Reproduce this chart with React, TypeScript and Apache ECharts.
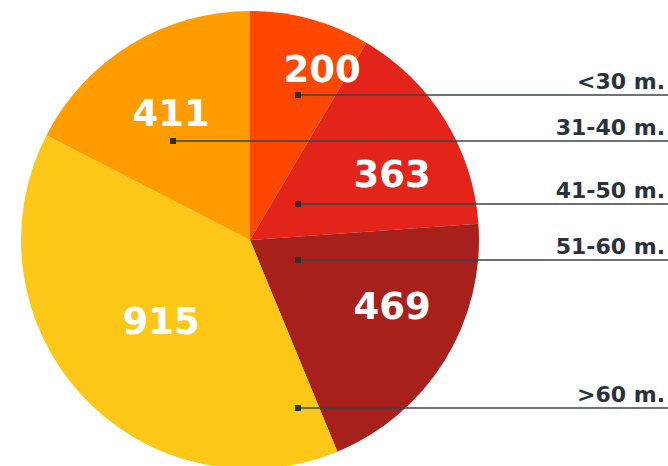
import React, { useEffect, useRef } from "react";
import * as echarts from "echarts";

// Pie slices, clockwise from the top
const CATEGORIES = ["<30 m.", "41-50 m.", "51-60 m.", ">60 m.", "31-40 m."];
const VALUES = [200, 363, 469, 915, 411];
const COLORS = ["#FF4700", "#E3241B", "#A8201B", "#FDC718", "#FE9C00"];

// Legend rows, top to bottom
const LEGEND_LABELS = ["<30 m.", "31-40 m.", "41-50 m.", "51-60 m.", ">60 m."];

// Layout (pixels)
const CENTER: [number, number] = [250, 240];
const RADIUS = 229;
const VALUE_LABEL_POS: Record<string, [number, number]> = {
  "<30 m.": [322, 69],
  "41-50 m.": [392, 174],
  "51-60 m.": [392, 306],
  ">60 m.": [161, 321],
  "31-40 m.": [171, 113],
};
const LEGEND_LINE_Y: Record<string, number> = {
  "<30 m.": 95,
  "31-40 m.": 141,
  "41-50 m.": 204,
  "51-60 m.": 260,
  ">60 m.": 408,
};
const LEGEND_MARK_X: Record<string, number> = {
  "<30 m.": 298,
  "31-40 m.": 173,
  "41-50 m.": 298,
  "51-60 m.": 298,
  ">60 m.": 298,
};

export default function App() {
  const ref = useRef<HTMLDivElement>(null);
  useEffect(() => {
    document.body.style.margin = "0";
    if (!ref.current) return;
    const chart = echarts.init(ref.current, undefined, { renderer: "svg" });
    const graphic: any[] = [];
    LEGEND_LABELS.forEach((name) => {
      const y = LEGEND_LINE_Y[name];
      const mx = LEGEND_MARK_X[name];
      graphic.push({
        type: "line",
        z: 100,
        shape: { x1: mx, y1: y, x2: 668, y2: y },
        style: { stroke: "#3a444e", lineWidth: 1.5 },
      });
      graphic.push({
        type: "rect",
        z: 101,
        shape: { x: mx - 3, y: y - 3, width: 6, height: 6 },
        style: { fill: "#28323c" },
      });
      graphic.push({
        type: "text",
        z: 101,
        x: 665,
        y: y - 14,
        style: {
          text: name,
          align: "right",
          verticalAlign: "middle",
          fill: "#28323c",
          font: 'bold 22px "DejaVu Sans"',
        },
      });
    });
    chart.setOption({
      animation: false,
      series: [
        {
          type: "pie",
          center: CENTER,
          radius: RADIUS,
          startAngle: 90,
          clockwise: true,
          silent: true,
          data: CATEGORIES.map((name, i) => ({
            name,
            value: VALUES[i],
            itemStyle: { color: COLORS[i] },
          })),
          label: {
            show: true,
            position: "inside",
            formatter: "{c}",
            color: "#ffffff",
            fontFamily: "DejaVu Sans",
            fontWeight: "bold",
            fontSize: 37,
          },
          labelLine: { show: false },
          labelLayout: (params: any) => {
            const name = CATEGORIES[params.dataIndex];
            const p = VALUE_LABEL_POS[name];
            return { x: p[0], y: p[1], align: "center", verticalAlign: "middle" };
          },
        },
      ],
      graphic,
    });
    return () => chart.dispose();
  }, []);
  return (
    <div
      ref={ref}
      style={{ position: "absolute", left: 0, top: 0, width: 668, height: 466 }}
    />
  );
}
